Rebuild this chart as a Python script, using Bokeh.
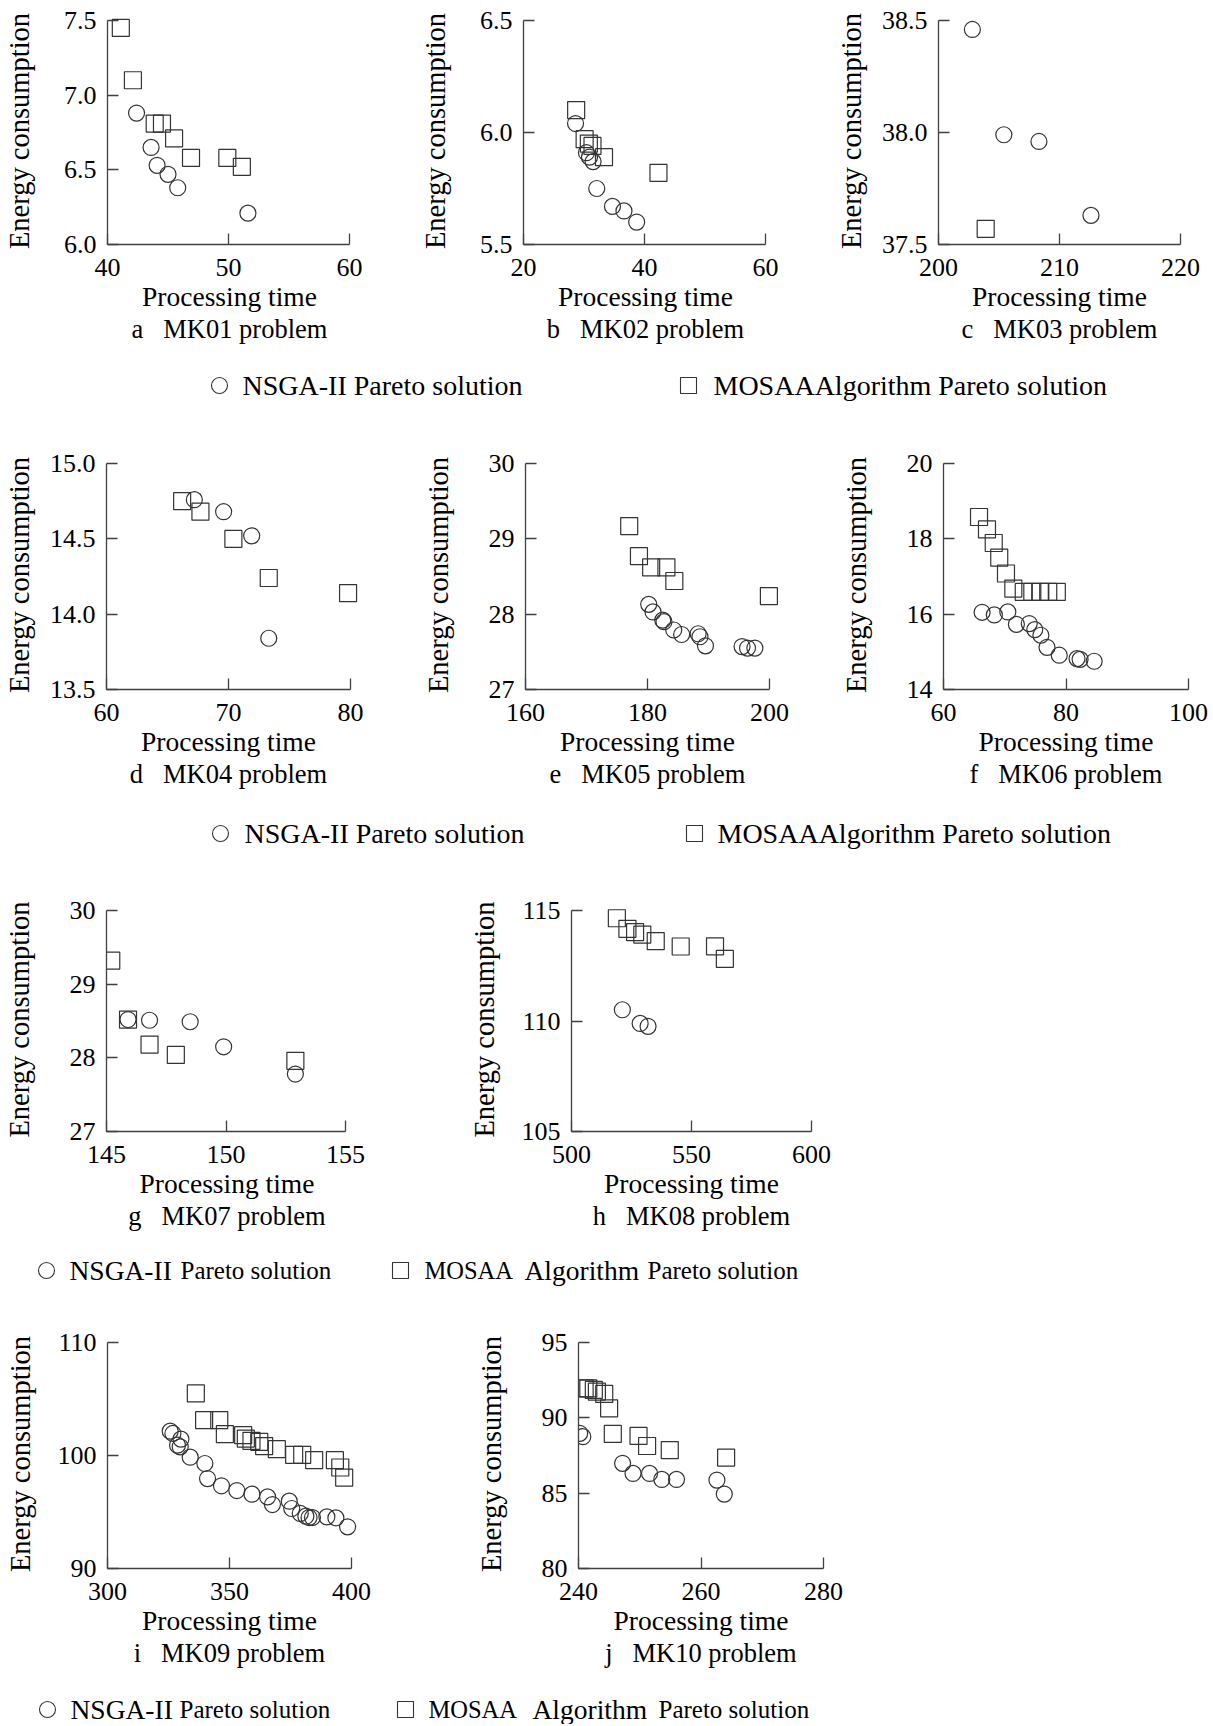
from bokeh.plotting import figure
from bokeh.layouts import column, row
from bokeh.models import Range1d, FixedTicker, PrintfTickFormatter, Title
from bokeh.core.properties import value
from bokeh.embed import file_html
from bokeh.resources import INLINE

FONT = "Liberation Serif"

# ---------------- data ----------------
mk01_nsga_time = [42.4, 43.6, 44.1, 45.0, 45.8, 51.6]
mk01_nsga_energy = [6.88, 6.65, 6.53, 6.47, 6.38, 6.21]
mk01_mosaa_time = [41.1, 42.1, 43.9, 44.5, 45.5, 46.9, 49.9, 51.1]
mk01_mosaa_energy = [7.45, 7.10, 6.81, 6.81, 6.71, 6.58, 6.58, 6.52]

mk02_nsga_time = [28.6, 30.4, 30.9, 31.5, 32.1, 34.7, 36.6, 38.7]
mk02_nsga_energy = [6.04, 5.91, 5.89, 5.87, 5.75, 5.67, 5.65, 5.60]
mk02_mosaa_time = [28.7, 30.1, 30.8, 31.4, 33.3, 42.3]
mk02_mosaa_energy = [6.10, 5.97, 5.95, 5.94, 5.89, 5.82]

mk03_nsga_time = [202.8, 205.4, 208.3, 212.6]
mk03_nsga_energy = [38.46, 37.99, 37.96, 37.63]
mk03_mosaa_time = [203.9]
mk03_mosaa_energy = [37.57]

mk04_nsga_time = [67.2, 69.6, 71.9, 73.3]
mk04_nsga_energy = [14.76, 14.68, 14.52, 13.84]
mk04_mosaa_time = [66.2, 67.7, 70.4, 73.3, 79.8]
mk04_mosaa_energy = [14.75, 14.68, 14.50, 14.24, 14.14]

mk05_nsga_time = [180.2, 180.9, 182.5, 182.7, 184.3, 185.6, 188.3, 188.6, 189.5, 195.5, 196.4, 197.6]
mk05_nsga_energy = [28.13, 28.03, 27.92, 27.90, 27.79, 27.73, 27.74, 27.70, 27.58, 27.57, 27.55, 27.55]
mk05_mosaa_time = [177.0, 178.6, 180.6, 183.1, 184.4, 199.9]
mk05_mosaa_energy = [29.17, 28.77, 28.62, 28.62, 28.44, 28.24]

mk06_nsga_time = [66.3, 68.3, 70.5, 71.9, 74.0, 74.9, 75.9, 76.9, 78.9, 81.8, 82.3, 84.6]
mk06_nsga_energy = [16.05, 15.98, 16.06, 15.73, 15.75, 15.59, 15.44, 15.12, 14.91, 14.82, 14.80, 14.75]
mk06_mosaa_time = [65.8, 67.1, 68.2, 69.1, 70.2, 71.4, 73.1, 74.5, 75.8, 77.1, 78.5]
mk06_mosaa_energy = [18.58, 18.25, 17.89, 17.50, 17.08, 16.68, 16.59, 16.59, 16.59, 16.59, 16.59]

mk07_nsga_time = [145.9, 146.8, 148.5, 149.9, 152.9]
mk07_nsga_energy = [28.52, 28.51, 28.49, 28.15, 27.78]
mk07_mosaa_time = [145.2, 145.9, 146.8, 147.9, 152.9]
mk07_mosaa_energy = [29.32, 28.52, 28.18, 28.04, 27.96]

mk08_nsga_time = [521.2, 528.6, 531.9]
mk08_nsga_energy = [110.51, 109.89, 109.76]
mk08_mosaa_time = [518.9, 523.3, 526.5, 529.5, 535.1, 545.5, 559.8, 563.9]
mk08_mosaa_energy = [114.65, 114.17, 114.02, 113.91, 113.61, 113.37, 113.38, 112.81]

mk09_nsga_time = [325.7, 326.8, 330.1, 328.7, 329.8, 333.9, 339.9, 341.0, 346.7, 353.0, 359.2,
                  365.6, 367.6, 374.5, 375.5, 379.0, 381.3, 382.6, 384.0, 389.9, 393.6, 398.4]
mk09_nsga_energy = [102.15, 101.95, 101.45, 100.91, 100.77, 99.85, 99.29, 97.96, 97.32, 96.90, 96.58,
                    96.34, 95.66, 95.96, 95.31, 94.87, 94.63, 94.51, 94.51, 94.57, 94.48, 93.69]
mk09_mosaa_time = [336.2, 339.6, 345.8, 348.1, 355.6, 356.7, 359.0, 362.2, 364.2, 369.4, 376.5,
                   379.8, 384.7, 393.2, 395.4, 397.0]
mk09_mosaa_energy = [105.49, 103.13, 103.13, 101.89, 101.80, 101.50, 101.30, 101.20, 100.83, 100.56,
                     100.06, 100.06, 99.59, 99.59, 98.94, 98.05]

mk10_nsga_time = [240.2, 240.7, 247.2, 248.9, 251.6, 253.6, 256.0, 262.6, 263.8]
mk10_nsga_energy = [88.97, 88.75, 86.98, 86.31, 86.31, 85.91, 85.91, 85.87, 84.94]
mk10_mosaa_time = [241.0, 241.6, 242.5, 243.0, 244.2, 245.0, 245.6, 249.8, 251.2, 254.9, 264.1]
mk10_mosaa_energy = [91.96, 91.96, 91.85, 91.74, 91.59, 90.63, 88.93, 88.80, 88.13, 87.86, 87.36]

# tick values
mk01_xticks, mk01_yticks = [40, 50, 60], [6.0, 6.5, 7.0, 7.5]
mk02_xticks, mk02_yticks = [20, 40, 60], [5.5, 6.0, 6.5]
mk03_xticks, mk03_yticks = [200, 210, 220], [37.5, 38.0, 38.5]
mk04_xticks, mk04_yticks = [60, 70, 80], [13.5, 14.0, 14.5, 15.0]
mk05_xticks, mk05_yticks = [160, 180, 200], [27, 28, 29, 30]
mk06_xticks, mk06_yticks = [60, 80, 100], [14, 16, 18, 20]
mk07_xticks, mk07_yticks = [145, 150, 155], [27, 28, 29, 30]
mk08_xticks, mk08_yticks = [500, 550, 600], [105, 110, 115]
mk09_xticks, mk09_yticks = [300, 350, 400], [90, 100, 110]
mk10_xticks, mk10_yticks = [240, 260, 280], [80, 85, 90, 95]

SEP = "\u00a0\u00a0 "
captions = ["a" + SEP + "MK01 problem", "b" + SEP + "MK02 problem", "c" + SEP + "MK03 problem",
            "d" + SEP + "MK04 problem", "e" + SEP + "MK05 problem", "f" + SEP + "MK06 problem",
            "g" + SEP + "MK07 problem", "h" + SEP + "MK08 problem", "i" + SEP + "MK09 problem",
            "j" + SEP + "MK10 problem"]

x_label = "Processing time"
y_label = "Energy consumption"
nsga_name = "NSGA-II"
mosaa_name = "MOSAA"
algo_word = "Algorithm"
pareto_word = "Pareto solution"

# ---------------- styling ----------------
AX = "#404040"
MK = "#333333"
TICK_FS = 26
XLAB_FS = 27.5
CAP_FS = 26.5
YLAB_CENTER = 84
RPAD = 10  # extra frame room on the right so markers are not clipped
TPAD = 3   # extra frame room on top

# advance widths (per 1000 em) of the serif face, used to centre texts under the axis
ADV = {"P": 556, "r": 333, "o": 500, "c": 444, "e": 444, "s": 389, "i": 278, "n": 500,
       "g": 500, " ": 250, "\u00a0": 250, "t": 278, "m": 778, "a": 444, "b": 500, "d": 500,
       "f": 333, "h": 500, "j": 278, "M": 889, "K": 722, "l": 278, "u": 500, ".": 250}


def adv_width(s, fs):
    return sum(ADV.get(ch, 500) for ch in s) / 1000.0 * fs


def tick_w(s, fs):
    return sum(0.25 if ch == "." else 0.5 for ch in s) * fs


def make_panel(nx, ny, mx, my, xt, yt, yfmt, caption, W, L, FW, H, T, FH):
    x0, x1 = xt[0], xt[-1]
    y0, y1 = yt[0], yt[-1]
    dx = RPAD * (x1 - x0) / FW
    dy = TPAD * (y1 - y0) / FH
    p = figure(width=W, height=H,
               x_range=Range1d(x0, x1 + dx), y_range=Range1d(y0, y1 + dy),
               min_border_left=L, min_border_right=W - L - FW - RPAD,
               min_border_top=T - TPAD, min_border_bottom=H - T - FH,
               toolbar_location=None, tools="", output_backend="svg")
    p.outline_line_color = None
    p.grid.visible = False
    p.background_fill_color = "white"
    p.border_fill_color = "white"

    p.scatter(nx, ny, marker="circle", size=16, fill_color=None,
              line_color=MK, line_width=1.2)
    p.scatter(mx, my, marker="square", size=17, fill_color=None,
              line_color=MK, line_width=1.2)

    for ax in (p.xaxis[0], p.yaxis[0]):
        ax.axis_line_color = AX
        ax.axis_line_width = 1.3
        ax.major_tick_line_color = AX
        ax.major_tick_line_width = 1.3
        ax.major_tick_in = 11
        ax.major_tick_out = 0
        ax.minor_tick_line_color = None
        ax.major_label_text_font = FONT
        ax.major_label_text_font_size = f"{TICK_FS}px"
        ax.major_label_text_color = "black"
        ax.axis_label_text_font = FONT
        ax.axis_label_text_font_style = "normal"
        ax.axis_label_text_color = "black"

    xa = p.xaxis[0]
    xa.bounds = (x0, x1)
    xa.ticker = FixedTicker(ticks=xt)
    xa.formatter = PrintfTickFormatter(format="%d")
    xa.major_label_standoff = 14

    ya = p.yaxis[0]
    ya.bounds = (y0, y1)
    ya.ticker = FixedTicker(ticks=yt)
    ya.formatter = PrintfTickFormatter(format=yfmt)
    ya.major_label_standoff = 11
    ya.axis_label = y_label
    ya.axis_label_text_font_size = "28.5px"
    labels = [yfmt % v for v in yt]
    wmax = max(tick_w(s, TICK_FS) for s in labels)
    ya.axis_label_standoff = int(round(YLAB_CENTER - 11 - wmax - 15))

    # x-axis title and caption, centred under the axis line (not the padded frame)
    for txt, fs, sto in ((x_label, XLAB_FS, 0), (caption, CAP_FS, 0)):
        off = FW / 2.0 - adv_width(txt, fs) / 2.0
        p.add_layout(Title(text=txt, align="left", offset=off, text_font=FONT,
                           text_font_size=f"{fs}px", text_font_style="normal",
                           text_color="black", standoff=sto), "below")
    return p


def legend_strip(H, mid, pieces, marks):
    p = figure(width=1210, height=H, x_range=Range1d(0, 1210), y_range=Range1d(H, 0),
               min_border=0, x_axis_type=None, y_axis_type=None,
               toolbar_location=None, tools="", output_backend="svg")
    p.outline_line_color = None
    p.grid.visible = False
    for (mx, kind) in marks:
        p.scatter([mx], [mid], marker=kind, size=16, fill_color=None,
                  line_color=MK, line_width=1.1)
    for (tx, txt, fs) in pieces:
        p.text(x=[tx], y=[mid], text=[txt], text_font=value(FONT),
               text_font_size=f"{fs}px", text_baseline="middle",
               text_align="left", text_color="black")
    return p


series = [
    (mk01_nsga_time, mk01_nsga_energy, mk01_mosaa_time, mk01_mosaa_energy, mk01_xticks, mk01_yticks, "%.1f"),
    (mk02_nsga_time, mk02_nsga_energy, mk02_mosaa_time, mk02_mosaa_energy, mk02_xticks, mk02_yticks, "%.1f"),
    (mk03_nsga_time, mk03_nsga_energy, mk03_mosaa_time, mk03_mosaa_energy, mk03_xticks, mk03_yticks, "%.1f"),
    (mk04_nsga_time, mk04_nsga_energy, mk04_mosaa_time, mk04_mosaa_energy, mk04_xticks, mk04_yticks, "%.1f"),
    (mk05_nsga_time, mk05_nsga_energy, mk05_mosaa_time, mk05_mosaa_energy, mk05_xticks, mk05_yticks, "%d"),
    (mk06_nsga_time, mk06_nsga_energy, mk06_mosaa_time, mk06_mosaa_energy, mk06_xticks, mk06_yticks, "%d"),
    (mk07_nsga_time, mk07_nsga_energy, mk07_mosaa_time, mk07_mosaa_energy, mk07_xticks, mk07_yticks, "%d"),
    (mk08_nsga_time, mk08_nsga_energy, mk08_mosaa_time, mk08_mosaa_energy, mk08_xticks, mk08_yticks, "%d"),
    (mk09_nsga_time, mk09_nsga_energy, mk09_mosaa_time, mk09_mosaa_energy, mk09_xticks, mk09_yticks, "%d"),
    (mk10_nsga_time, mk10_nsga_energy, mk10_mosaa_time, mk10_mosaa_energy, mk10_xticks, mk10_yticks, "%d"),
]

# (W, L, FW, H, T, FH) per panel: FW/FH are the axis extents in pixels
geom = [
    (416, 105, 244, 360, 20, 224),
    (416, 105, 244, 360, 20, 224),
    (378, 106, 242, 360, 20, 224),
    (416, 106, 244, 390, 53, 226),
    (416, 109, 244, 390, 53, 226),
    (378, 111, 245, 390, 53, 226),
    (460, 104, 241, 380, 50, 221),
    (440, 111, 240, 380, 50, 221),
    (460, 107, 244, 384, 42, 226),
    (440, 118, 245, 384, 42, 226),
]

panels = [make_panel(*s[:6], s[6], captions[i], *geom[i]) for i, s in enumerate(series)]

leg1 = legend_strip(50, 25,
                    [(242, nsga_name + " " + pareto_word, 28),
                     (713, mosaa_name + algo_word + " " + pareto_word, 28)],
                    [(219, "circle"), (688, "square")])
leg2 = legend_strip(60, 33,
                    [(244, nsga_name + " " + pareto_word, 28),
                     (717, mosaa_name + algo_word + " " + pareto_word, 28)],
                    [(220, "circle"), (694, "square")])
leg3 = legend_strip(60, 30,
                    [(69, nsga_name, 27.5), (180, pareto_word, 25),
                     (424, mosaa_name, 24.5), (524, algo_word, 27.5), (647, pareto_word, 25)],
                    [(46, "circle"), (400, "square")])
leg4 = legend_strip(40, 25,
                    [(70, nsga_name, 27.5), (179, pareto_word, 25),
                     (428, mosaa_name, 24.5), (532, algo_word, 27.5), (658, pareto_word, 25)],
                    [(47, "circle"), (405, "square")])

layout = column(
    row(panels[0], panels[1], panels[2]),
    leg1,
    row(panels[3], panels[4], panels[5]),
    leg2,
    row(panels[6], panels[7]),
    leg3,
    row(panels[8], panels[9]),
    leg4,
)

open("out.html", "w").write(file_html(layout, INLINE))
